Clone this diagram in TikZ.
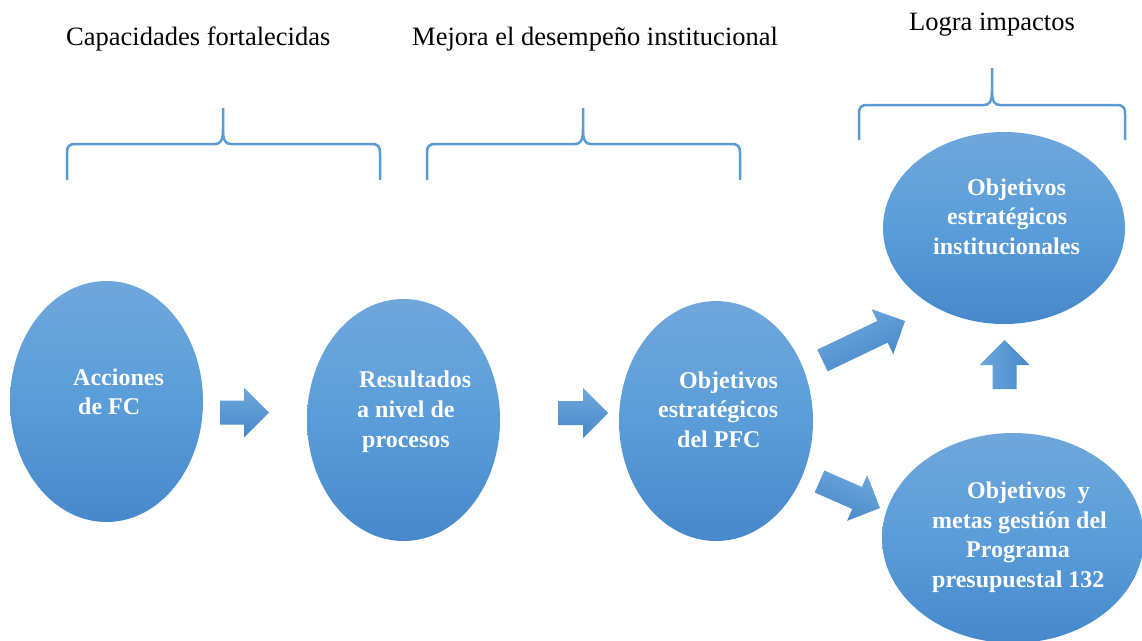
\documentclass[tikz,border=0pt]{standalone}
\usepackage{fontspec}
\setmainfont{Liberation Serif}
\usetikzlibrary{shapes.geometric,calc}
\definecolor{bluetop}{HTML}{6FA7DC}
\definecolor{bluemid}{HTML}{5A9DD9}
\definecolor{bluebot}{HTML}{4688CA}
\definecolor{bracecol}{HTML}{5B9BD5}
\newcommand\mybrace[6]{%
  \draw[bracestyle] (#1,#6) -- (#1,#5+9) .. controls (#1,#5+2) and (#1+2,#5) .. (#1+9,#5)
    -- (#2-8,#5) .. controls (#2-3,#5) and (#2,#5-3) .. (#2,#5-14) -- (#2,#4);
  \draw[bracestyle] (#2,#5-14) .. controls (#2,#5-3) and (#2+3,#5) .. (#2+8,#5)
    -- (#3-9,#5) .. controls (#3-2,#5) and (#3,#5+2) .. (#3,#5+9) -- (#3,#6);
}
\newcommand\blockarrow[3]{%
  \coordinate (bT) at (#1);
  \coordinate (bP) at (#2);
  \coordinate (bH) at ($(bP)!25pt!(bT)$);
  \shade[arrowshade, shading angle=#3]
    ($(bT)!12pt!90:(bP)$) -- ($(bH)!12pt!90:(bP)$) -- ($(bH)!25pt!90:(bP)$) -- (bP)
    -- ($(bH)!25pt!-90:(bP)$) -- ($(bH)!12pt!-90:(bP)$) -- ($(bT)!12pt!-90:(bP)$) -- cycle;
}
\begin{document}
\begin{tikzpicture}[x=1pt,y=-1pt,
  oval/.style={ellipse, inner sep=0pt, draw=none, top color=bluetop, bottom color=bluebot, middle color=bluemid},
  arrowshade/.style={top color=bluetop, bottom color=bluebot},
  lbl/.style={anchor=base west, inner sep=0pt, text=white, font=\fontsize{24}{30}\selectfont\bfseries},
  headtext/.style={anchor=base west, inner sep=0pt, font=\fontsize{26.5}{30}\selectfont},
  bracestyle/.style={draw=bracecol, line width=2.5pt}
]
\useasboundingbox (0,0) rectangle (1142,640);

% headings
\node[headtext] (h1) at (66,45) {Capacidades fortalecidas};
\node[headtext] (h2) at (412,45) {Mejora el desempeño institucional};
\node[headtext] (h3) at (909,30) {Logra impactos};

% braces
\mybrace{67}{223}{380}{108}{144}{180}
\mybrace{427}{583}{740}{108}{144}{180}
\mybrace{859}{992}{1125}{68}{105}{140}

% ellipses
\node[oval, minimum width=193pt, minimum height=241pt] (acc) at (106.5,401.5) {};
\node[oval, minimum width=193pt, minimum height=242pt] (res) at (403.5,420) {};
\node[oval, minimum width=194pt, minimum height=240pt] (pfc) at (716,421) {};
\node[oval, minimum width=242pt, minimum height=192pt] (oei) at (1004,228) {};
\node[oval, minimum width=262pt, minimum height=210pt] (omg) at (1013,538) {};

% texts
\node[lbl] (acc1) at (73,385) {Acciones};
\node[lbl] (acc2) at (78,414) {de FC};
\node[lbl] (res1) at (359,387) {Resultados};
\node[lbl] (res2) at (357,417) {a nivel de};
\node[lbl] (res3) at (362,447) {procesos};
\node[lbl] (pfc1) at (679,388) {Objetivos};
\node[lbl] (pfc2) at (658,417) {estratégicos};
\node[lbl] (pfc3) at (677,447) {del PFC};
\node[lbl] (oei1) at (967,195) {Objetivos};
\node[lbl] (oei2) at (947,224) {estratégicos};
\node[lbl] (oei3) at (933,254) {institucionales};
\node[lbl] (omg1) at (967,498) {Objetivos\ \ y};
\node[lbl] (omg2) at (932,528) {metas gestión del};
\node[lbl] (omg3) at (966,557) {Programa};
\node[lbl] (omg4) at (932,587) {presupuestal 132};

% block arrows
\blockarrow{220,412.5}{269,412.5}{0}
\blockarrow{558,413}{608,413}{0}
\blockarrow{822.5,360.5}{905,321}{25.6}
\blockarrow{819.5,481.5}{880,508}{-23.6}
\blockarrow{1004.5,389}{1004.5,340}{90}
\end{tikzpicture}
\end{document}
